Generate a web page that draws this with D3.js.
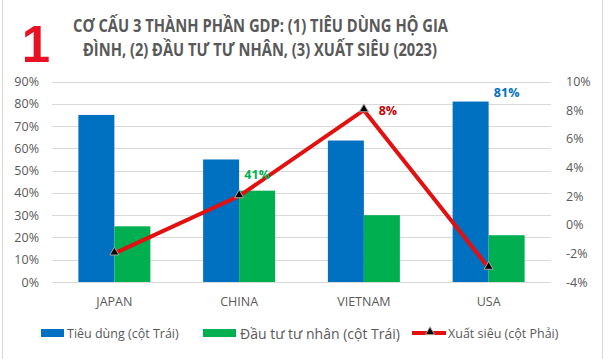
<!DOCTYPE html>
<html><head><meta charset="utf-8">
<script src="https://cdn.jsdelivr.net/npm/d3@7"></script>
<style>body{margin:0;background:#fff}svg{display:block}text{font-family:"Open Sans","Noto Sans",sans-serif}</style>
</head><body><svg id="c" width="606" height="359"></svg>
<script>
const categories = ["JAPAN","CHINA","VIETNAM","USA"];
const consumption = [75, 55, 63.5, 81];
const investment = [25, 41, 30, 21];
const netExport = [-2, 2, 8, -3];
const leftTicks = [0,10,20,30,40,50,60,70,80,90];
const rightTicks = [-4,-2,0,2,4,6,8,10];
const titleLines = ["CƠ CẤU 3 THÀNH PHẦN GDP: (1) TIÊU DÙNG HỘ GIA","ĐÌNH, (2) ĐẦU TƯ TƯ NHÂN, (3) XUẤT SIÊU (2023)"];
const legendLabels = ["Tiêu dùng (cột Trái)","Đầu tư tư nhân (cột Trái)","Xuất siêu (cột Phải)"];

const svg = d3.select("#c");
const gray = "#595959";
// sheet borders
svg.append("line").attr("x1",2.5).attr("x2",2.5).attr("y1",0).attr("y2",359).attr("stroke","#d9d9d9");
svg.append("line").attr("x1",602.5).attr("x2",602.5).attr("y1",0).attr("y2",359).attr("stroke","#d9d9d9");

const x0 = d3.scaleBand().domain(categories).range([52,551]);
const x1 = d3.scaleBand().domain(["c","i"]).range([x0.bandwidth()/2-36, x0.bandwidth()/2+36]);
const yL = d3.scaleLinear().domain([0,90]).range([282,81.5]);
const yR = d3.scaleLinear().domain([-4,10]).range([282,81.5]);

// gridlines
svg.append("g").selectAll("line").data(leftTicks).join("line")
  .attr("x1",52).attr("x2",551).attr("y1",d=>Math.round(yL(d))+0.5).attr("y2",d=>Math.round(yL(d))+0.5)
  .attr("stroke","#d9d9d9").attr("stroke-width",1);

// left axis
const axL = d3.axisLeft(yL).tickValues(leftTicks).tickFormat(d=>d+"%").tickSize(0).tickPadding(0);
const gL = svg.append("g").attr("transform","translate(39,0)").call(axL);
gL.select(".domain").remove();
gL.selectAll("text").attr("fill",gray).style("font-size","12.5px").style("font-family","'Open Sans',sans-serif");
// right axis
const axR = d3.axisRight(yR).tickValues(rightTicks).tickFormat(d=>d+"%").tickSize(0).tickPadding(0);
const gR = svg.append("g").attr("transform","translate(566,0)").call(axR);
gR.select(".domain").remove();
gR.selectAll("text").attr("fill",gray).style("font-size","12.5px").style("font-family","'Open Sans',sans-serif");

// bars
const groups = svg.append("g").selectAll("g").data(categories).join("g")
  .attr("transform",d=>`translate(${x0(d)},0)`);
groups.append("rect").attr("x",x1("c")).attr("width",x1.bandwidth())
  .attr("y",(d,i)=>yL(consumption[i])).attr("height",(d,i)=>yL(0)-yL(consumption[i])).attr("fill","#0070c0");
groups.append("rect").attr("x",x1("i")).attr("width",x1.bandwidth())
  .attr("y",(d,i)=>yL(investment[i])).attr("height",(d,i)=>yL(0)-yL(investment[i])).attr("fill","#00b050");

// x axis labels
const axX = d3.axisBottom(x0).tickSize(0).tickPadding(0);
const gX = svg.append("g").attr("transform","translate(0,297)").call(axX);
gX.select(".domain").remove();
gX.selectAll("text").attr("fill",gray).style("font-size","12.5px").style("font-family","'Open Sans',sans-serif");

// line
const cx = d => x0(d) + x0.bandwidth()/2;
const line = d3.line().x((d,i)=>cx(categories[i])).y(d=>yR(d));
svg.append("path").datum(netExport).attr("d",line).attr("fill","none").attr("stroke","#e31010").attr("stroke-width",4).attr("stroke-linejoin","miter");
const tri = d3.symbol().type(d3.symbolTriangle).size(36);
svg.append("g").selectAll("path").data(netExport).join("path")
  .attr("d",tri).attr("transform",(d,i)=>`translate(${cx(categories[i])},${yR(d)-1})`)
  .attr("fill","#000").attr("stroke","#a6a6a6").attr("stroke-width",1);

// data labels
svg.append("text").attr("x",cx("USA")+18).attr("y",yL(81)-5).attr("text-anchor","middle")
  .attr("fill","#0070c0").style("font-weight","bold").style("font-size","12.5px").text(consumption[3]+"%");
svg.append("text").attr("x",x0("CHINA")+x1("i")+x1.bandwidth()/2).attr("y",yL(41)-12).attr("text-anchor","middle")
  .attr("fill","#00b050").style("font-weight","bold").style("font-size","12.5px").text(investment[1]+"%");
svg.append("text").attr("x",cx("VIETNAM")+24).attr("y",yR(8)+5).attr("text-anchor","middle")
  .attr("fill","#c00000").style("font-weight","bold").style("font-size","12.5px").text(netExport[2]+"%");

// title
svg.append("text").attr("x",36).attr("y",62).attr("text-anchor","middle").attr("fill","#e81123")
  .style("font-family","'Liberation Sans',Arial,sans-serif").style("font-weight","bold").style("font-size","51px").text("1");
const tl = [[73,32,375],[83,56,354]];
titleLines.forEach((t,i)=>{
  svg.append("text").attr("x",tl[i][0]).attr("y",tl[i][1]).attr("fill",gray)
    .attr("textLength",tl[i][2]).attr("lengthAdjust","spacingAndGlyphs")
    .style("font-weight","bold").style("font-size","17.5px").text(t);
});

// legend
const lg = svg.append("g");
lg.append("rect").attr("x",41).attr("y",329).attr("width",23).attr("height",8).attr("fill","#0070c0");
lg.append("text").attr("x",67).attr("y",338).attr("fill",gray).style("font-size","12.5px").text(legendLabels[0]);
lg.append("rect").attr("x",203).attr("y",329).attr("width",33).attr("height",8).attr("fill","#00b050");
lg.append("text").attr("x",240).attr("y",339).attr("fill",gray).style("font-size","14px").text(legendLabels[1]);
lg.append("line").attr("x1",412).attr("x2",446).attr("y1",333).attr("y2",333).attr("stroke","#e31010").attr("stroke-width",4);
lg.append("path").attr("d",tri).attr("transform","translate(430,332)").attr("fill","#000").attr("stroke","#a6a6a6");
lg.append("text").attr("x",448).attr("y",338).attr("fill",gray).style("font-size","12.5px").text(legendLabels[2]);
</script></body></html>
